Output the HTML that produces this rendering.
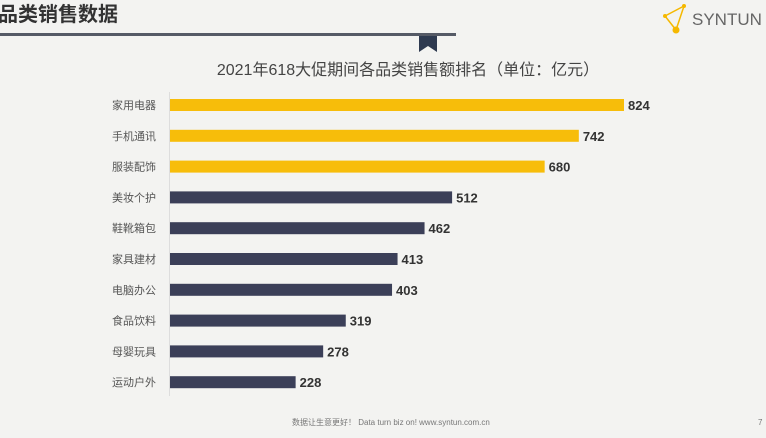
<!DOCTYPE html>
<html><head><meta charset="utf-8">
<style>
body{margin:0;width:766px;height:433px;background:#f3f3f1;overflow:hidden;font-family:"Liberation Sans","Noto Sans CJK SC",sans-serif;}
</style></head><body>
<svg width="766" height="433" xmlns="http://www.w3.org/2000/svg">
<text x="-2" y="21" font-size="20" font-weight="bold" fill="#333">品类销售数据</text>
<rect x="0" y="33" width="456" height="3" fill="#555a66"/>
<path d="M419,36 L437,36 L437,52 L428,46 L419,52 Z" fill="#2e3a50"/>
<g>
<line x1="665" y1="16" x2="684" y2="6" stroke="#f5b800" stroke-width="1.5"/>
<line x1="684" y1="6" x2="676" y2="30" stroke="#f5b800" stroke-width="1.5"/>
<line x1="665" y1="16" x2="676" y2="30" stroke="#f5b800" stroke-width="1.5"/>
<circle cx="676" cy="30" r="3.5" fill="#f5b800"/><circle cx="665" cy="16" r="2" fill="#f5b800"/><circle cx="684" cy="6" r="2" fill="#f5b800"/>
<text x="692" y="25" font-size="17" fill="#666">SYNTUN</text>
</g>
<text x="408" y="75" font-size="16" fill="#444" text-anchor="middle">2021年618大促期间各品类销售额排名（单位：亿元）</text>
<line x1="169.5" y1="92" x2="169.5" y2="396" stroke="#ddd"/>
<g id="bars"></g>
<text x="292" y="425" font-size="8" fill="#777">数据让生意更好！ Data turn biz on!  www.syntun.com.cn</text>
<text x="758" y="425" font-size="8" fill="#777">7</text>
</svg>
<script>
const categories=["家用电器","手机通讯","服装配饰","美妆个护","鞋靴箱包","家具建材","电脑办公","食品饮料","母婴玩具","运动户外"];
const values=[824,742,680,512,462,413,403,319,278,228];
const highlighted=[true,true,true,false,false,false,false,false,false,false];
const g=document.getElementById('bars');
const NS='http://www.w3.org/2000/svg';
const x0=170,scale=454/824,y0=105,step=30.8,bh=12;
function xs(v){return x0+v*scale;}
function ys(i){return y0+i*step;}
categories.forEach((c,i)=>{
  const r=document.createElementNS(NS,'rect');
  r.setAttribute('x',x0);r.setAttribute('y',ys(i)-bh/2);
  r.setAttribute('width',xs(values[i])-x0);r.setAttribute('height',bh);
  r.setAttribute('fill',highlighted[i]?'#f7bd0a':'#3b3f58');
  
  
  g.appendChild(r);
  const l=document.createElementNS(NS,'text');
  l.setAttribute('x',156);l.setAttribute('y',ys(i)+4);
  l.setAttribute('text-anchor','end');l.setAttribute('font-size','11');l.setAttribute('fill','#555');
  l.textContent=c;
  
  
  g.appendChild(l);
  const v=document.createElementNS(NS,'text');
  v.setAttribute('x',xs(values[i])+4);v.setAttribute('y',ys(i)+5);
  v.setAttribute('font-size','13');v.setAttribute('font-weight','bold');v.setAttribute('fill','#333');
  v.textContent=values[i];
  
  
  g.appendChild(v);
});
</script>
</body></html>
